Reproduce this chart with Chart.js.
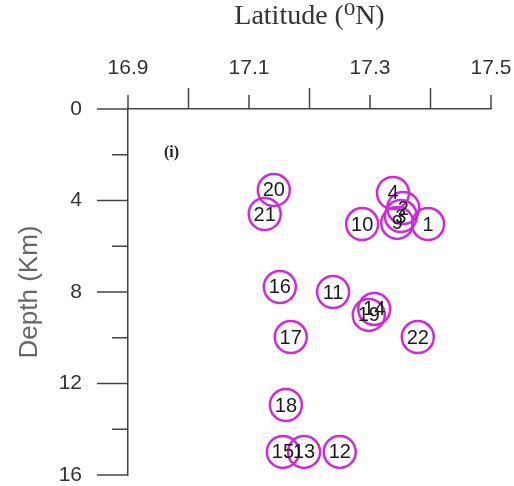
<!DOCTYPE html>
<html>
<head>
<meta charset="utf-8">
<script src="https://cdn.jsdelivr.net/npm/chart.js@4/dist/chart.umd.min.js"></script>
<style>
  html, body { margin: 0; padding: 0; background: #fff; }
  #wrap { width: 514px; height: 486px; }
</style>
</head>
<body>
<div id="wrap"><canvas id="depthChart" width="514" height="486"></canvas></div>
<script>
// event numbers, latitude (deg N) and depth (km)
const eventIds = ['20', '21', '4', '2', '3', '9', '1', '10', '16', '11', '14', '19', '17', '22', '18', '15', '13', '12'];
const latitudes = [17.141, 17.126, 17.338, 17.355, 17.351, 17.345, 17.396, 17.287, 17.151, 17.239, 17.307, 17.298, 17.169, 17.379, 17.161, 17.156, 17.191, 17.250];
const depths = [3.54, 4.59, 3.67, 4.33, 4.68, 4.98, 5.03, 5.03, 7.78, 8.0, 8.74, 9.0, 9.97, 9.97, 12.94, 14.99, 14.99, 14.99];

const latLabels = ['16.9', '17.1', '17.3', '17.5'];
const depthLabels = ['0', '4', '8', '12', '16'];

const points = eventIds.map((id, i) => ({ x: latitudes[i], y: depths[i] }));
const axisColor = '#444';
const sans = '"Liberation Sans", Arial, sans-serif';
const serif = '"Liberation Serif", "DejaVu Serif", serif';

// tick marks: labelled latitude ticks are short, the others long
const tickMarks = {
    id: 'tickMarks',
    afterDraw(chart) {
        const ctx = chart.ctx;
        const xs = chart.scales.x;
        const ys = chart.scales.y;
        const top = ys.getPixelForValue(0);
        const left = xs.getPixelForValue(16.9);
        ctx.save();
        ctx.strokeStyle = axisColor;
        ctx.lineWidth = 1.5;
        ctx.beginPath();
        for (let k = 0; k <= 6; k++) {
            const v = 16.9 + k * 0.1;
            const px = xs.getPixelForValue(v);
            const labelled = latLabels.includes(v.toFixed(1));
            ctx.moveTo(px, top);
            ctx.lineTo(px, top - (labelled ? 14 : 21));
        }
        for (let d = 0; d <= 16; d += 2) {
            const py = ys.getPixelForValue(d);
            const major = depthLabels.includes(String(d));
            ctx.moveTo(left, py);
            ctx.lineTo(left - (major ? 31 : 16), py);
        }
        ctx.stroke();

        // panel tag
        ctx.fillStyle = '#222';
        ctx.font = 'bold 16px ' + serif;
        ctx.textAlign = 'center';
        ctx.textBaseline = 'middle';
        ctx.fillText('(i)', xs.getPixelForValue(16.972), ys.getPixelForValue(1.92));
        ctx.restore();
    }
};

// event numbers inside circles
const pointNumbers = {
    id: 'pointNumbers',
    afterDatasetsDraw(chart) {
        const ctx = chart.ctx;
        const meta = chart.getDatasetMeta(0);
        ctx.save();
        ctx.fillStyle = '#1a1a1a';
        ctx.font = '20px ' + sans;
        ctx.textAlign = 'center';
        ctx.textBaseline = 'middle';
        meta.data.forEach((el, i) => {
            ctx.fillText(eventIds[i], el.x, el.y + 1);
        });
        ctx.restore();
    }
};

new Chart(document.getElementById('depthChart'), {
    type: 'scatter',
    data: {
        datasets: [{
            data: points,
            pointRadius: 16,
            pointHoverRadius: 16,
            pointBorderWidth: 2.5,
            pointBorderColor: 'rgb(210, 40, 220)',
            pointBackgroundColor: 'rgba(0,0,0,0)',
            clip: false
        }]
    },
    options: {
        responsive: false,
        animation: false,
        events: [],
        layout: { autoPadding: false, padding: { top: 0, left: 0, right: 23, bottom: 11 } },
        plugins: {
            legend: { display: false },
            tooltip: { enabled: false }
        },
        scales: {
            x: {
                type: 'linear',
                position: 'top',
                min: 16.9,
                max: 17.5,
                afterFit: (scale) => {
                    scale.height = 109;
                    scale.paddingLeft = 0;
                    scale.paddingRight = 0;
                },
                grid: { display: true, drawOnChartArea: false, tickLength: 28, color: 'rgba(0,0,0,0)' },
                border: { display: true, color: axisColor, width: 1.5 },
                ticks: {
                    stepSize: 0.1,
                    autoSkip: false,
                    maxRotation: 0,
                    padding: 0,
                    color: '#333',
                    font: { size: 21, family: sans },
                    callback: (v) => {
                        const s = Number(v).toFixed(1);
                        return latLabels.includes(s) ? s : '';
                    }
                },
                title: {
                    display: true,
                    text: 'Latitude (\u2070N)',
                    color: '#333',
                    padding: { top: 0, bottom: 0 },
                    font: { size: 28, family: serif }
                }
            },
            y: {
                type: 'linear',
                min: 0,
                max: 16,
                reverse: true,
                afterFit: (scale) => {
                    scale.width = 128;
                    scale.paddingTop = 0;
                    scale.paddingBottom = 0;
                },
                grid: { display: true, drawOnChartArea: false, tickLength: 46, color: 'rgba(0,0,0,0)' },
                border: { display: true, color: axisColor, width: 1.5 },
                ticks: {
                    stepSize: 2,
                    autoSkip: false,
                    padding: 0,
                    color: '#333',
                    font: { size: 21, family: sans },
                    callback: (v) => depthLabels.includes(String(v)) ? String(v) : ''
                },
                title: {
                    display: true,
                    text: 'Depth (Km)',
                    color: '#666',
                    padding: { top: 14, bottom: 0 },
                    font: { size: 26, family: sans }
                }
            }
        }
    },
    plugins: [tickMarks, pointNumbers]
});
</script>
</body>
</html>
